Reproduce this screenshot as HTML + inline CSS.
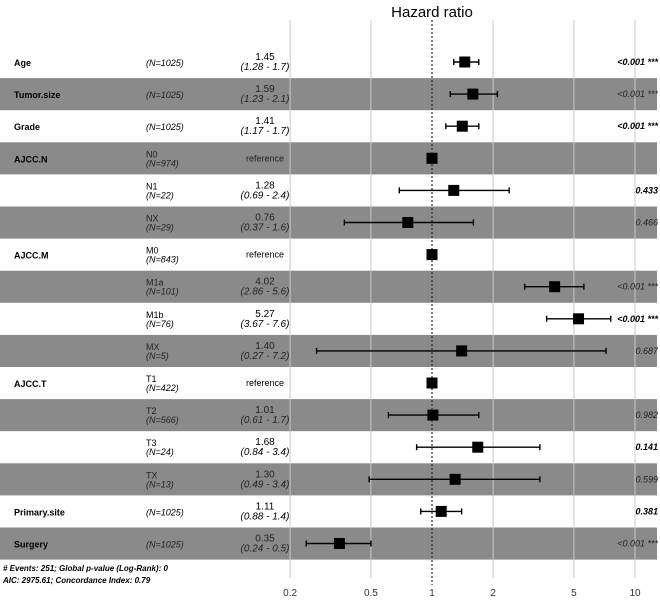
<!DOCTYPE html>
<html><head><meta charset="utf-8"><style>
body{margin:0;background:#fff}
svg{display:block;font-family:"Liberation Sans",Arial,sans-serif}
</style></head><body>
<svg id="c" width="660" height="600"></svg>
<script>
const variables=["Age","Tumor.size","Grade","AJCC.N","","","AJCC.M","","","","AJCC.T","","","","Primary.site","Surgery"];
const levels=["","","","N0","N1","NX","M0","M1a","M1b","MX","T1","T2","T3","TX","",""];
const counts=[1025,1025,1025,974,22,29,843,101,76,5,422,566,24,13,1025,1025];
const hr=[1.45,1.59,1.41,1,1.28,0.76,1,4.02,5.27,1.40,1,1.01,1.68,1.30,1.11,0.35];
const lo=[1.28,1.23,1.17,null,0.69,0.37,null,2.86,3.67,0.27,null,0.61,0.84,0.49,0.88,0.24];
const hi=[1.7,2.1,1.7,null,2.4,1.6,null,5.6,7.6,7.2,null,1.7,3.4,3.4,1.4,0.5];
const pvals=["<0.001 ***","<0.001 ***","<0.001 ***","","0.433","0.466","","<0.001 ***","<0.001 ***","0.687","","0.982","0.141","0.599","0.381","<0.001 ***"];
const ticks=[0.2,0.5,1,2,5,10];
const NS="http://www.w3.org/2000/svg";
const svg=document.getElementById('c');
const X=v=>432+203*Math.log10(v);
const rowTop=i=>46+i*32.1;
function mk(t,a,p){const e=document.createElementNS(NS,t);for(const k in a)e.setAttribute(k,a[k]);(p||svg).appendChild(e);return e;}
function txt(x,y,s,o){const e=mk('text',Object.assign({x:x,y:y,'font-size':9,fill:'#000'},o||{}));e.textContent=s;return e;}
for(let i=0;i<hr.length;i++){if(i%2==1){const r=mk('rect',{x:0,y:rowTop(i),width:657,height:32.1,fill:'#8a8a8a'});

}}
ticks.forEach(t=>{if(t!==1){const l=mk('line',{x1:X(t),x2:X(t),y1:20,y2:578,stroke:'#c8c8c8','stroke-width':1});

}
const tl=txt(X(t),596,String(t),{'text-anchor':'middle','font-size':10,fill:'#333'});

});
const ref=mk('line',{x1:X(1),x2:X(1),y1:20,y2:585,stroke:'#333','stroke-width':1.3,'stroke-dasharray':'2,2'});


const title=txt(432,17,'Hazard ratio',{'text-anchor':'middle','font-size':15});


for(let i=0;i<hr.length;i++){
 const y=rowTop(i)+16, w=(i%2==0)?'bold':'normal', fc=(i%2==0)?'#000':'#222';
 if(variables[i]){const v=txt(14,y+4,variables[i],{'font-weight':'bold'});
 
 }
 const nstr='(N='+counts[i]+')';
 if(levels[i]){const a=txt(146,y-1,levels[i],{fill:fc});
  const b=txt(146,y+8,nstr,{'font-style':'italic',fill:fc});}
 else{const b=txt(146,y+4,nstr,{'font-style':'italic',fill:fc});}
 if(lo[i]===null){const r=txt(265,y+3,'reference',{'text-anchor':'middle',fill:fc});}
 else{const e=txt(265,y-2,hr[i].toFixed(2),{'text-anchor':'middle','font-size':10,fill:fc});
  const ci=txt(265,y+8,'('+lo[i]+' - '+hi[i]+')',{'text-anchor':'middle','font-style':'italic','font-size':10,fill:fc});
  const g=mk('g',{});
  mk('line',{x1:X(lo[i]),x2:X(hi[i]),y1:y,y2:y,stroke:'#000','stroke-width':1.4},g);
  mk('line',{x1:X(lo[i]),x2:X(lo[i]),y1:y-3,y2:y+3,stroke:'#000','stroke-width':1.4},g);
  mk('line',{x1:X(hi[i]),x2:X(hi[i]),y1:y-3,y2:y+3,stroke:'#000','stroke-width':1.4},g);}
 const s=mk('rect',{x:X(hr[i])-5.5,y:y-5.5,width:11,height:11,fill:'#000'});
 
 
 if(pvals[i]){const p=txt(658,y+3,pvals[i],{'text-anchor':'end','font-style':'italic','font-weight':w,fill:fc});}
}
const f1=txt(3,571,'# Events: 251; Global p-value (Log-Rank): 0',{'font-size':8,'font-style':'italic','font-weight':'bold'});


const f2=txt(3,583,'AIC: 2975.61; Concordance Index: 0.79',{'font-size':8,'font-style':'italic','font-weight':'bold'});


</script>
</body></html>
